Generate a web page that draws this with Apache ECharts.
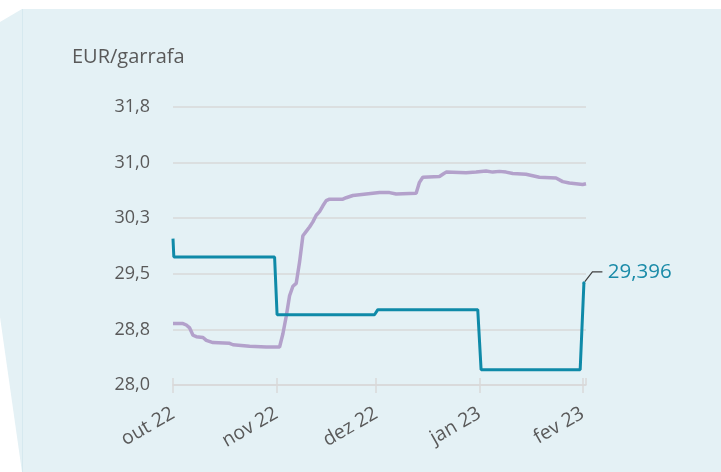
<!DOCTYPE html>
<html>
<head>
    <meta charset="utf-8">
    <title>EUR/garrafa</title>
    <script src="https://cdn.jsdelivr.net/npm/echarts@6.0.0/dist/echarts.min.js"></script>
    <style>
        html, body { margin: 0; padding: 0; background: #fff; }
        #chart { width: 721px; height: 472px; }
    </style>
</head>
<body>
    <div id="chart"></div>
    <script>
        // meses em português (rótulos do eixo x)
        const monthLabels = ['jan', 'fev', 'mar', 'abr', 'mai', 'jun', 'jul', 'ago', 'set', 'out', 'nov', 'dez'];
        const xMin = '2022-10-01';
        const xMax = '2023-02-02';
        const yMin = 28.0;
        const yMax = 31.8;
        const yInterval = 0.76;

        // série lilás (diária)
        const lilacDates = [
            '2022-10-01', '2022-10-04', '2022-10-05', '2022-10-06', '2022-10-07', '2022-10-08',
            '2022-10-10', '2022-10-11', '2022-10-13', '2022-10-18', '2022-10-19', '2022-10-24',
            '2022-10-29', '2022-11-02', '2022-11-03', '2022-11-04', '2022-11-05', '2022-11-06',
            '2022-11-07', '2022-11-08', '2022-11-09', '2022-11-10', '2022-11-11', '2022-11-12',
            '2022-11-13', '2022-11-14', '2022-11-15', '2022-11-16', '2022-11-17', '2022-11-21',
            '2022-11-22', '2022-11-24', '2022-11-26', '2022-11-28', '2022-11-30', '2022-12-02',
            '2022-12-05', '2022-12-07', '2022-12-13', '2022-12-14', '2022-12-15', '2022-12-20',
            '2022-12-21', '2022-12-22', '2022-12-28', '2022-12-31', '2023-01-03', '2023-01-05',
            '2023-01-07', '2023-01-09', '2023-01-11', '2023-01-15', '2023-01-17', '2023-01-19',
            '2023-01-24', '2023-01-26', '2023-01-28', '2023-01-30', '2023-02-01', '2023-02-02'
        ];
        const lilacValues = [
            28.84, 28.84, 28.82, 28.78, 28.68, 28.66,
            28.65, 28.61, 28.58, 28.57, 28.55, 28.53,
            28.52, 28.52, 28.70, 28.94, 29.22, 29.35,
            29.39, 29.68, 30.04, 30.10, 30.16, 30.23,
            30.32, 30.37, 30.45, 30.52, 30.54, 30.54,
            30.56, 30.59, 30.60, 30.61, 30.62, 30.63,
            30.63, 30.61, 30.62, 30.77, 30.84, 30.85,
            30.88, 30.91, 30.90, 30.91, 30.925, 30.91,
            30.92, 30.91, 30.89, 30.88, 30.86, 30.84,
            30.83, 30.78, 30.76, 30.75, 30.74, 30.75
        ];

        // série azul (escalões mensais)
        const tealDates = [
            '2022-10-01 00:00', '2022-10-01 06:00', '2022-10-31 12:00', '2022-11-01 06:00',
            '2022-11-30 12:00', '2022-12-01 12:00', '2022-12-31 12:00', '2023-01-01 12:00',
            '2023-01-31 06:00', '2023-02-01 09:00'
        ];
        const tealValues = [30.00, 29.75, 29.75, 28.96, 28.96, 29.03, 29.03, 28.21, 28.21, 29.396];

        const textColor = '#595959';
        const gridColor = '#d9d9d9';
        const fontFamily = '"Open Sans", "Noto Sans", sans-serif';

        const fmtComma = (v, d) => v.toFixed(d).replace('.', ',');

        const lilacData = lilacDates.map((d, i) => [d, lilacValues[i]]);
        const tealData = tealDates.map((d, i) => {
            const item = { value: [d, tealValues[i]] };
            if (i === tealDates.length - 1) {
                item.symbol = 'circle';
                item.symbolSize = 3;
                item.label = {
                    show: true,
                    position: 'right',
                    distance: 2,
                    color: '#1a8ba8',
                    fontSize: 20.5,
                    fontFamily: fontFamily,
                    formatter: p => ' ' + fmtComma(p.value[1], 3)
                };
            }
            return item;
        });

        const chart = echarts.init(document.getElementById('chart'));
        const option = {
            animation: false,
            backgroundColor: '#ffffff',
            graphic: [
                {
                    type: 'polygon',
                    z: -10,
                    shape: { points: [[22, 9], [721, 9], [721, 472], [22, 472], [0, 317], [0, 22]] },
                    style: { fill: '#e4f1f5' }
                },
                {
                    type: 'line',
                    z: -9,
                    shape: { x1: 22.5, y1: 9, x2: 22.5, y2: 472 },
                    style: { stroke: '#d6e9ef', lineWidth: 1 }
                }
            ],
            title: {
                text: 'EUR/garrafa',
                left: 67,
                top: 42,
                textStyle: { color: textColor, fontSize: 20, fontWeight: 'normal', fontFamily: fontFamily }
            },
            grid: { left: 173, right: 135, top: 107, bottom: 87, containLabel: false },
            xAxis: [
                {
                    type: 'time',
                    min: xMin,
                    max: xMax,
                    splitNumber: 4,
                    axisLine: { show: true, lineStyle: { color: gridColor, width: 1.5 } },
                    axisTick: { show: true, length: 8, lineStyle: { color: gridColor, width: 1.5 } },
                    splitLine: { show: false },
                    axisLabel: {
                        color: textColor,
                        fontSize: 19.5,
                        fontFamily: fontFamily,
                        rotate: 30,
                        margin: 27,
                        hideOverlap: false,
                        formatter: v => {
                            const d = new Date(v);
                            return monthLabels[d.getMonth()] + ' ' + String(d.getFullYear()).slice(2);
                        }
                    }
                },
                {
                    type: 'time',
                    min: xMin,
                    max: xMax,
                    splitNumber: 4,
                    position: 'bottom',
                    axisLine: { show: false },
                    axisTick: { show: true, inside: true, length: 7, lineStyle: { color: gridColor, width: 1.5 } },
                    splitLine: { show: false },
                    axisLabel: { show: false }
                }
            ],
            yAxis: {
                type: 'value',
                min: yMin,
                max: yMax,
                interval: yInterval,
                axisLine: { show: false },
                axisTick: { show: false },
                splitLine: { show: true, lineStyle: { color: gridColor, width: 1.5 } },
                axisLabel: {
                    color: textColor,
                    fontSize: 18,
                    fontFamily: fontFamily,
                    margin: 23,
                    formatter: v => fmtComma(v, 1)
                }
            },
            series: [
                {
                    name: 'lilás',
                    type: 'line',
                    data: lilacData,
                    showSymbol: false,
                    symbol: 'none',
                    lineStyle: { color: '#b3a1cb', width: 3.5 },
                    itemStyle: { color: '#b3a1cb' },
                    z: 2
                },
                {
                    name: 'azul',
                    type: 'line',
                    data: tealData,
                    symbol: 'none',
                    showSymbol: true,
                    lineStyle: { color: '#0f8aa8', width: 3 },
                    itemStyle: { color: '#0f8aa8' },
                    labelLayout: { dx: 15, dy: -11 },
                    labelLine: { show: true, length2: 10, minTurnAngle: 90, lineStyle: { color: '#404040', width: 1.2 } },
                    z: 3
                }
            ]
        };
        chart.setOption(option);
    </script>
</body>
</html>
